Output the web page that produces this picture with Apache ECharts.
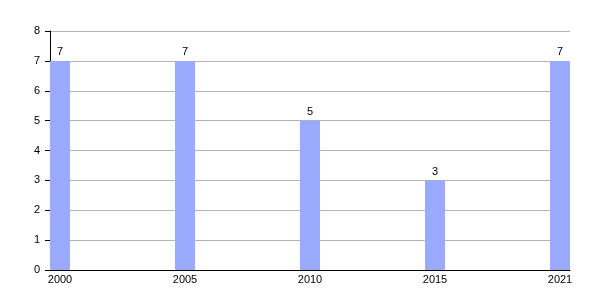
<!DOCTYPE html>
<html><head><meta charset="utf-8">
<script src="https://cdn.jsdelivr.net/npm/echarts@6/dist/echarts.min.js"></script>
<style>html,body{margin:0;padding:0;background:#fff}#c{width:600px;height:300px}</style>
</head><body><div id="c"></div>
<script>
const categories = ['2000', '2005', '2010', '2015', '2021'];
const values = [7, 7, 5, 3, 7];
const yTicks = [0, 1, 2, 3, 4, 5, 6, 7, 8];

const chart = echarts.init(document.getElementById('c'), null, {renderer: 'canvas'});
const font = 'Liberation Sans, Arial, sans-serif';
chart.setOption({
  animation: false,
  backgroundColor: '#fff',
  grid: {left: 50, right: 30, top: 31, bottom: 30, containLabel: false},
  xAxis: {
    type: 'value', min: -0.08, max: categories.length - 1 + 0.08,
    axisLine: {show: true, onZero: false, lineStyle: {color: '#000', width: 1}},
    axisTick: {show: false},
    splitLine: {show: false},
    axisLabel: {
      customValues: categories.map((c, i) => i),
      formatter: v => categories[Math.round(v)],
      color: '#000', fontSize: 11, fontFamily: font, margin: 4
    }
  },
  yAxis: {
    type: 'value', min: yTicks[0], max: yTicks[yTicks.length - 1], interval: 1,
    axisLine: {show: true, onZero: false, lineStyle: {color: '#000', width: 1}},
    axisTick: {show: true, length: 5, lineStyle: {color: '#000'}},
    splitLine: {show: true, lineStyle: {color: '#b3b3b3', width: 1}},
    axisLabel: {color: '#000', fontSize: 11, fontFamily: font, margin: 10}
  },
  series: [{
    type: 'bar',
    data: values.map((v, i) => [i, v]),
    barWidth: 20,
    itemStyle: {color: '#99aaff'},
    label: {show: true, position: 'top', color: '#000', fontSize: 11, fontFamily: font, distance: 3}
  }]
});
</script></body></html>
